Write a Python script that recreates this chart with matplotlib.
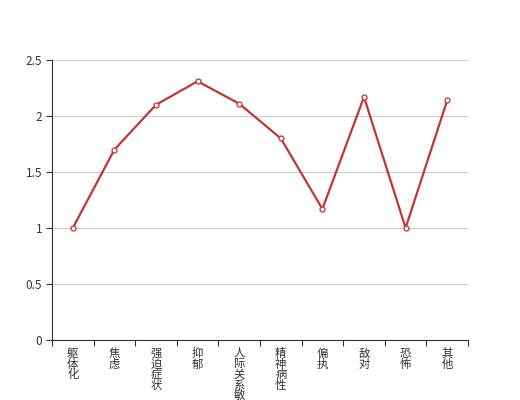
import matplotlib
matplotlib.use('Agg')
import numpy as np
from matplotlib import pyplot as plt

plt.rcParams['font.family'] = ['Noto Sans CJK SC', 'DejaVu Sans']

# === Data ===
categories = ['躯体化', '焦虑', '强迫症状', '抑郁', '人际关系敏感',
              '精神病性', '偏执', '敌对', '恐怖', '其他']
values = [1.0, 1.7, 2.1, 2.31, 2.11, 1.8, 1.17, 2.17, 1.0, 2.14]
y_ticks = [0, 0.5, 1, 1.5, 2, 2.5]
y_tick_labels = ['0', '0.5', '1', '1.5', '2', '2.5']

line_color = '#c23531'
axis_color = '#333333'

fig = plt.figure(figsize=(5.2, 4.0), dpi=100)
ax = fig.add_axes([0.1, 0.15, 0.8, 0.70])

x = np.arange(len(categories))
ax.plot(x, values, color=line_color, lw=1.6, marker='o', ms=3.6,
        mfc='white', mec=line_color, mew=0.9, zorder=3, clip_on=False)

ax.set_xlim(-0.5, len(categories) - 0.5)
ax.set_ylim(0, 2.5)

# grid
ax.set_yticks(y_ticks)
ax.set_yticklabels(y_tick_labels, fontsize=8.5, color=axis_color)
for yv in y_ticks[1:]:
    ax.axhline(yv, color='#cccccc', lw=0.8, zorder=1)

# x ticks at category boundaries, labels stacked vertically
ax.set_xticks(np.arange(len(categories) + 1) - 0.5)
ax.set_xticklabels([])
ax.tick_params(axis='x', length=4, width=0.8, color=axis_color)
ax.tick_params(axis='y', length=4, width=0.8, color=axis_color, pad=3)
trans = ax.get_xaxis_transform()
for i, name in enumerate(categories):
    for j, ch in enumerate(name):
        ax.annotate(ch, xy=(i, 0), xycoords=trans,
                    xytext=(0, -9.8 - 7.6 * j), textcoords='offset points',
                    ha='center', va='center', fontsize=8.2, color=axis_color,
                    annotation_clip=False)

for s in ['top', 'right']:
    ax.spines[s].set_visible(False)
for s in ['left', 'bottom']:
    ax.spines[s].set_color(axis_color)
    ax.spines[s].set_linewidth(0.8)

fig.savefig('out.png', dpi=100)
